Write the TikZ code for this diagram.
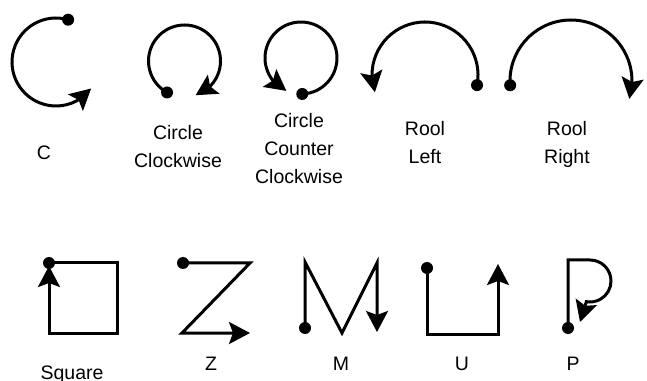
\documentclass[tikz,border=0pt]{standalone}
\usepackage{fontspec}
\setmainfont{Liberation Sans}
\usetikzlibrary{arrows.meta,bending}

\tikzset{
  stroke/.style={line width=3pt},
  arr/.style={stroke,-{Stealth[length=21pt,width=22pt,inset=4pt]}},
  lbl/.style={font=\fontsize{19.5}{28}\selectfont, align=center, anchor=base, inner sep=0pt}
}

\begin{document}
\begin{tikzpicture}[x=1pt,y=1pt]
        \useasboundingbox (0,0) rectangle (647,380);

        % start points of the moves
        \coordinate (cStart) at ([shift={(74:44)}]56,318);
        \coordinate (cwStart) at ([shift={(241:36)}]184.5,319);
        \coordinate (ccwStart) at ([shift={(-88:36)}]301,322);
        \coordinate (rlStart) at ([shift={(-11:53)}]425,305);
        \coordinate (rrStart) at ([shift={(184:61)}]571,299);
        \coordinate (sqStart) at (49,117);
        \coordinate (zStart) at (183,117);
        \coordinate (mStart) at (305,52);
        \coordinate (uStart) at (427,112);
        \coordinate (pStart) at (568,52);

        % top row
        \draw[arr] (cStart) arc[start angle=74, end angle=323, radius=44];
        \draw[arr] (cwStart) arc[start angle=241, end angle=-72, radius=36];
        \draw[arr] (ccwStart) arc[start angle=-88, end angle=246, radius=36];
        \draw[arr] (rlStart) arc[start angle=-11, end angle=199, radius=53];
        \draw[arr] (rrStart) arc[start angle=184, end angle=-17, radius=61];

        % bottom row
        \draw[arr] (sqStart) -- (117,117) -- (117,47) -- (49,47) -- (49,114);
        \draw[arr] (zStart) -- (250,117) -- (182,47) -- (250,47);
        \draw[arr] (mStart) -- (305,118) -- (342,47) -- (377,117) -- (377,48);
        \draw[arr] (uStart) -- (427,46) -- (498,46) -- (498,116);
        \draw[arr] (pStart) -- (568,120) -- (590,120)
            arc[start angle=90, end angle=-100, radius=21] -- (580,58);

        \foreach \s in {cStart,cwStart,ccwStart,rlStart,rrStart,sqStart,zStart,mStart,uStart,pStart}
            \fill[black] (\s) circle (6);

        % labels (base = last line)
        \node[lbl] (cLabel) at (44,220.6) {C};
        \node[lbl] (cwLabel) at (178,212.6) {Circle\\Clockwise};
        \node[lbl] (ccwLabel) at (299,196.6) {Circle\\Counter\\Clockwise};
        \node[lbl] (rlLabel) at (425,216.6) {Rool\\Left};
        \node[lbl] (rrLabel) at (567,216.6) {Rool\\Right};
        \node[lbl] (sqLabel) at (72,1) {Square};
        \node[lbl] (zLabel) at (211,9.6) {Z};
        \node[lbl] (mLabel) at (341,9.6) {M};
        \node[lbl] (uLabel) at (462,9.6) {U};
        \node[lbl] (pLabel) at (573,9.6) {P};
    \end{tikzpicture}
\end{document}
